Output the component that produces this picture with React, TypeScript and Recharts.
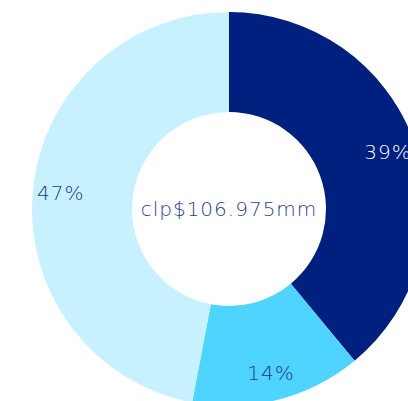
import { PieChart, Pie, Cell } from "recharts"

const categories = ["A", "B", "C"]
const shares = [39, 14, 47]
const centerLabel = "clp$106.975mm"

const COLORS = ["#00207f", "#4fd3ff", "#c8f1ff"]
const LABEL_COLORS = ["#ffffff", "#1d3a8c", "#1d3a8c"]

const data = categories.map((name, i) => ({ name, value: shares[i] }))

const RADIAN = Math.PI / 180
const FONT = "'DejaVu Sans', 'Noto Sans', sans-serif"

const renderLabel = (props: any) => {
  const { cx, cy, midAngle, innerRadius, outerRadius, index, value } = props
  const r = innerRadius + (outerRadius - innerRadius) * 0.72
  const x = cx + r * Math.cos(-midAngle * RADIAN)
  const y = cy + r * Math.sin(-midAngle * RADIAN)
  return (
    <text
      x={x}
      y={y}
      fill={LABEL_COLORS[index]}
      textAnchor="middle"
      dominantBaseline="central"
      fontSize={20}
      fontWeight={200}
      letterSpacing={1}
      fontFamily={FONT}
    >
      {value}%
    </text>
  )
}

export default function App() {
  return (
    <div style={{ position: "absolute", left: 0, top: 0, width: 408, height: 401, background: "#fff" }}>
      <PieChart width={408} height={401} margin={{ top: 0, right: 0, bottom: 0, left: 0 }}>
        <Pie
          data={data}
          dataKey="value"
          nameKey="name"
          cx={229}
          cy={209}
          innerRadius={97}
          outerRadius={197}
          startAngle={90}
          endAngle={-270}
          stroke="none"
          label={renderLabel}
          labelLine={false}
          isAnimationActive={false}
        >
          {data.map((entry, i) => (
            <Cell key={entry.name} fill={COLORS[i]} />
          ))}
        </Pie>
        <text
          x={229}
          y={209}
          textAnchor="middle"
          dominantBaseline="central"
          fill="#2a3f98"
          fontSize={20}
          fontWeight={200}
          letterSpacing={1}
          fontFamily={FONT}
        >
          {centerLabel}
        </text>
      </PieChart>
    </div>
  )
}
